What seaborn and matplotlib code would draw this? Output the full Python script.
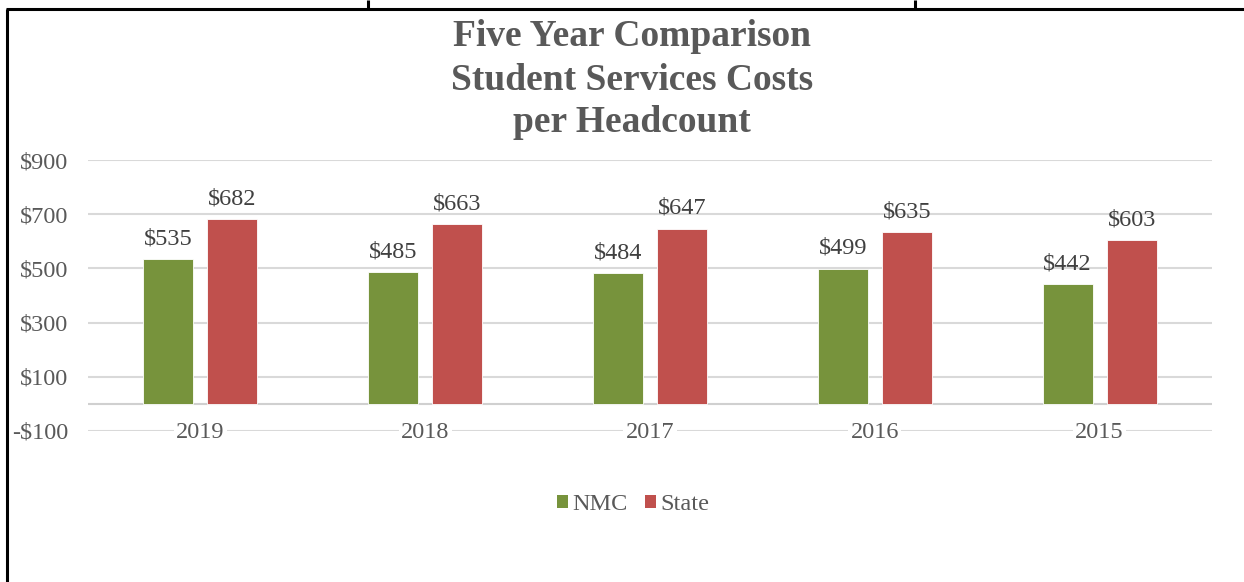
import matplotlib
matplotlib.use("Agg")
import matplotlib.pyplot as plt
from matplotlib.lines import Line2D
from matplotlib.patches import Patch
from matplotlib.transforms import offset_copy
import pandas as pd
import seaborn as sns

years = ["2019", "2018", "2017", "2016", "2015"]
nmc_costs = [535, 485, 484, 499, 442]
state_costs = [682, 663, 647, 635, 603]
series_names = ["NMC", "State"]
y_ticks = [-100, 100, 300, 500, 700, 900]

colors = {"NMC": "#77933C", "State": "#C0504D"}
text_gray = "#595959"
label_size = 17.5

df = pd.DataFrame({
    "Year": years * 2,
    "Cost": nmc_costs + state_costs,
    "Series": [series_names[0]] * len(years) + [series_names[1]] * len(years),
})

sns.set_theme(style="white")
plt.rcParams["font.family"] = ["Liberation Serif", "DejaVu Serif"]

fig = plt.figure(figsize=(12.44, 5.82), dpi=100)
ax = fig.add_axes([88 / 1244, 1 - 431 / 582, (1212 - 88) / 1244, (431 - 160) / 582])

sns.barplot(data=df, x="Year", y="Cost", hue="Series", order=years,
            hue_order=series_names, palette=colors, saturation=1,
            width=0.57, gap=0.22, edgecolor="white", linewidth=0.6,
            ax=ax, legend=False, zorder=3)

ax.set_ylim(-100, 900)
ax.set_xlim(-0.5, len(years) - 0.5)
ax.set_yticks(y_ticks)
ax.set_yticklabels([f"-${-v}" if v < 0 else f"${v}" for v in y_ticks])
ax.yaxis.grid(True, color="#D9D9D9", linewidth=1.5, zorder=0)
ax.axhline(0, color="#D0D0D0", linewidth=1.5, zorder=1)
for s in ax.spines.values():
    s.set_visible(False)
ax.tick_params(axis="both", length=0, labelsize=label_size, labelcolor=text_gray)
ax.tick_params(axis="y", pad=14)
ax.set_xlabel("")
ax.set_ylabel("")

# Category labels sit on the lowest gridline, masking it behind the text
ax.set_xticklabels([])
cat_trans = offset_copy(ax.transData, fig=fig, x=0, y=-2, units="dots")
for i, yr in enumerate(years):
    ax.text(i, -100, yr, ha="center", va="center", fontsize=label_size, color=text_gray,
            transform=cat_trans,
            bbox=dict(boxstyle="square,pad=0.1", fc="white", ec="none"), zorder=4)

for cont in ax.containers:
    ax.bar_label(cont, fmt="${:.0f}", padding=7, fontsize=label_size, color="#404040")

# Title
title_lines = ["Five Year Comparison", "Student Services Costs", "per Headcount"]
for k, line in enumerate(title_lines):
    fig.text(632 / 1244, 1 - (37 + 43 * k) / 582, line, ha="center", va="center",
             fontsize=27, fontweight="bold", color=text_gray)

# Legend
handles = [Patch(facecolor=colors[n], edgecolor="none", label=n) for n in series_names]
fig.legend(handles=handles, loc="center", bbox_to_anchor=(633 / 1244, 1 - 505 / 582),
           ncol=2, frameon=False, fontsize=label_size, handlelength=0.45, handleheight=0.45,
           handletextpad=0.2, columnspacing=0.7, labelcolor=text_gray)

# Outer frame
W, H = 1244, 582
def fig_line(x0, y0, x1, y1, lw=2.2):
    fig.add_artist(Line2D([x0 / W, x1 / W], [1 - y0 / H, 1 - y1 / H],
                          color="black", linewidth=lw, transform=fig.transFigure,
                          solid_capstyle="butt"))

fig_line(6, 9, W, 9)
fig_line(7, 9, 7, H)
fig_line(368, 0, 368, 9)
fig_line(915, 0, 915, 9)

fig.savefig("out.png", dpi=100)
